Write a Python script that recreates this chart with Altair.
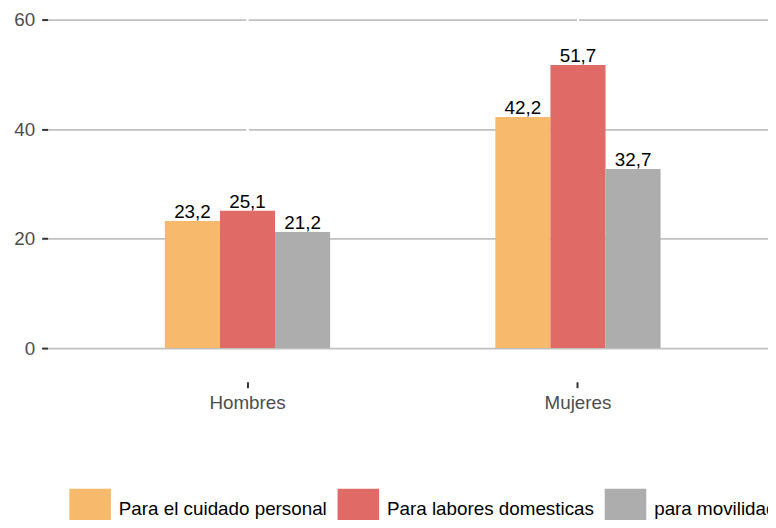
import altair as alt
import pandas as pd

grupos = ["Hombres", "Mujeres"]
series = ["Para el cuidado personal", "Para labores domesticas", "para movilidad"]
hombres = [23.2, 25.1, 21.2]
mujeres = [42.2, 51.7, 32.7]
colores = ["#F7BA6C", "#E06B66", "#ADADAD"]
y_ticks = [0, 20, 40, 60]

rows = []
for g, vals in zip(grupos, [hombres, mujeres]):
    for s, v in zip(series, vals):
        rows.append({"grupo": g, "serie": s, "valor": v})
df = pd.DataFrame(rows)

FONT = "Liberation Sans"

x_enc = alt.X(
    "grupo:N",
    sort=grupos,
    title=None,
    scale=alt.Scale(paddingInner=0.5, paddingOuter=0.34, align=0.522),
    axis=alt.Axis(
        labelAngle=0, labelFontSize=19, labelColor="#4d4d4d", labelFont=FONT,
        tickColor="#333333", tickWidth=2, tickSize=6, offset=34,
        labelPadding=6, domain=False, grid=False,
    ),
)
xoff = alt.XOffset("serie:N", sort=series, scale=alt.Scale(paddingInner=0, paddingOuter=0))
y_enc = alt.Y(
    "valor:Q",
    title=None,
    scale=alt.Scale(domain=[0, 60], nice=False),
    axis=alt.Axis(
        values=y_ticks, labelFontSize=19, labelColor="#4d4d4d", labelFont=FONT,
        tickColor="#333333", tickWidth=2, tickSize=6, labelPadding=7,
        domain=False, grid=True, gridColor="#c0c0c0", gridWidth=1.8,
    ),
)
color_enc = alt.Color(
    "serie:N",
    sort=series,
    scale=alt.Scale(domain=series, range=colores),
    legend=alt.Legend(
        title=None, orient="none", direction="horizontal",
        legendX=22, legendY=474, symbolType="square", symbolSize=1764,
        symbolStrokeWidth=0, symbolOpacity=1, labelFontSize=19, labelColor="#000000",
        labelFont=FONT, labelOffset=8, columnPadding=10, labelLimit=0, padding=0,
    ),
)

base = alt.Chart(df)

vgrid = base.mark_rule(color="white", strokeWidth=2).encode(x=x_enc)

bars = base.mark_bar().encode(x=x_enc, xOffset=xoff, y=y_enc, color=color_enc)

labels = base.transform_calculate(
    etiqueta="replace(format(datum.valor, '.1f'), '.', ',')"
).mark_text(baseline="alphabetic", dy=-3, fontSize=19, font=FONT, color="black").encode(
    x=x_enc, xOffset=xoff, y="valor:Q", text="etiqueta:N"
)

chart = alt.layer(vgrid, bars, labels).properties(
    width=728,
    height=332,
    autosize=alt.AutoSizeParams(type="none"),
    padding={"left": 40, "top": 9, "right": 0, "bottom": 171},
).configure_view(stroke=None)

chart.save("out.html", embed_options={"renderer": "svg", "actions": False})
